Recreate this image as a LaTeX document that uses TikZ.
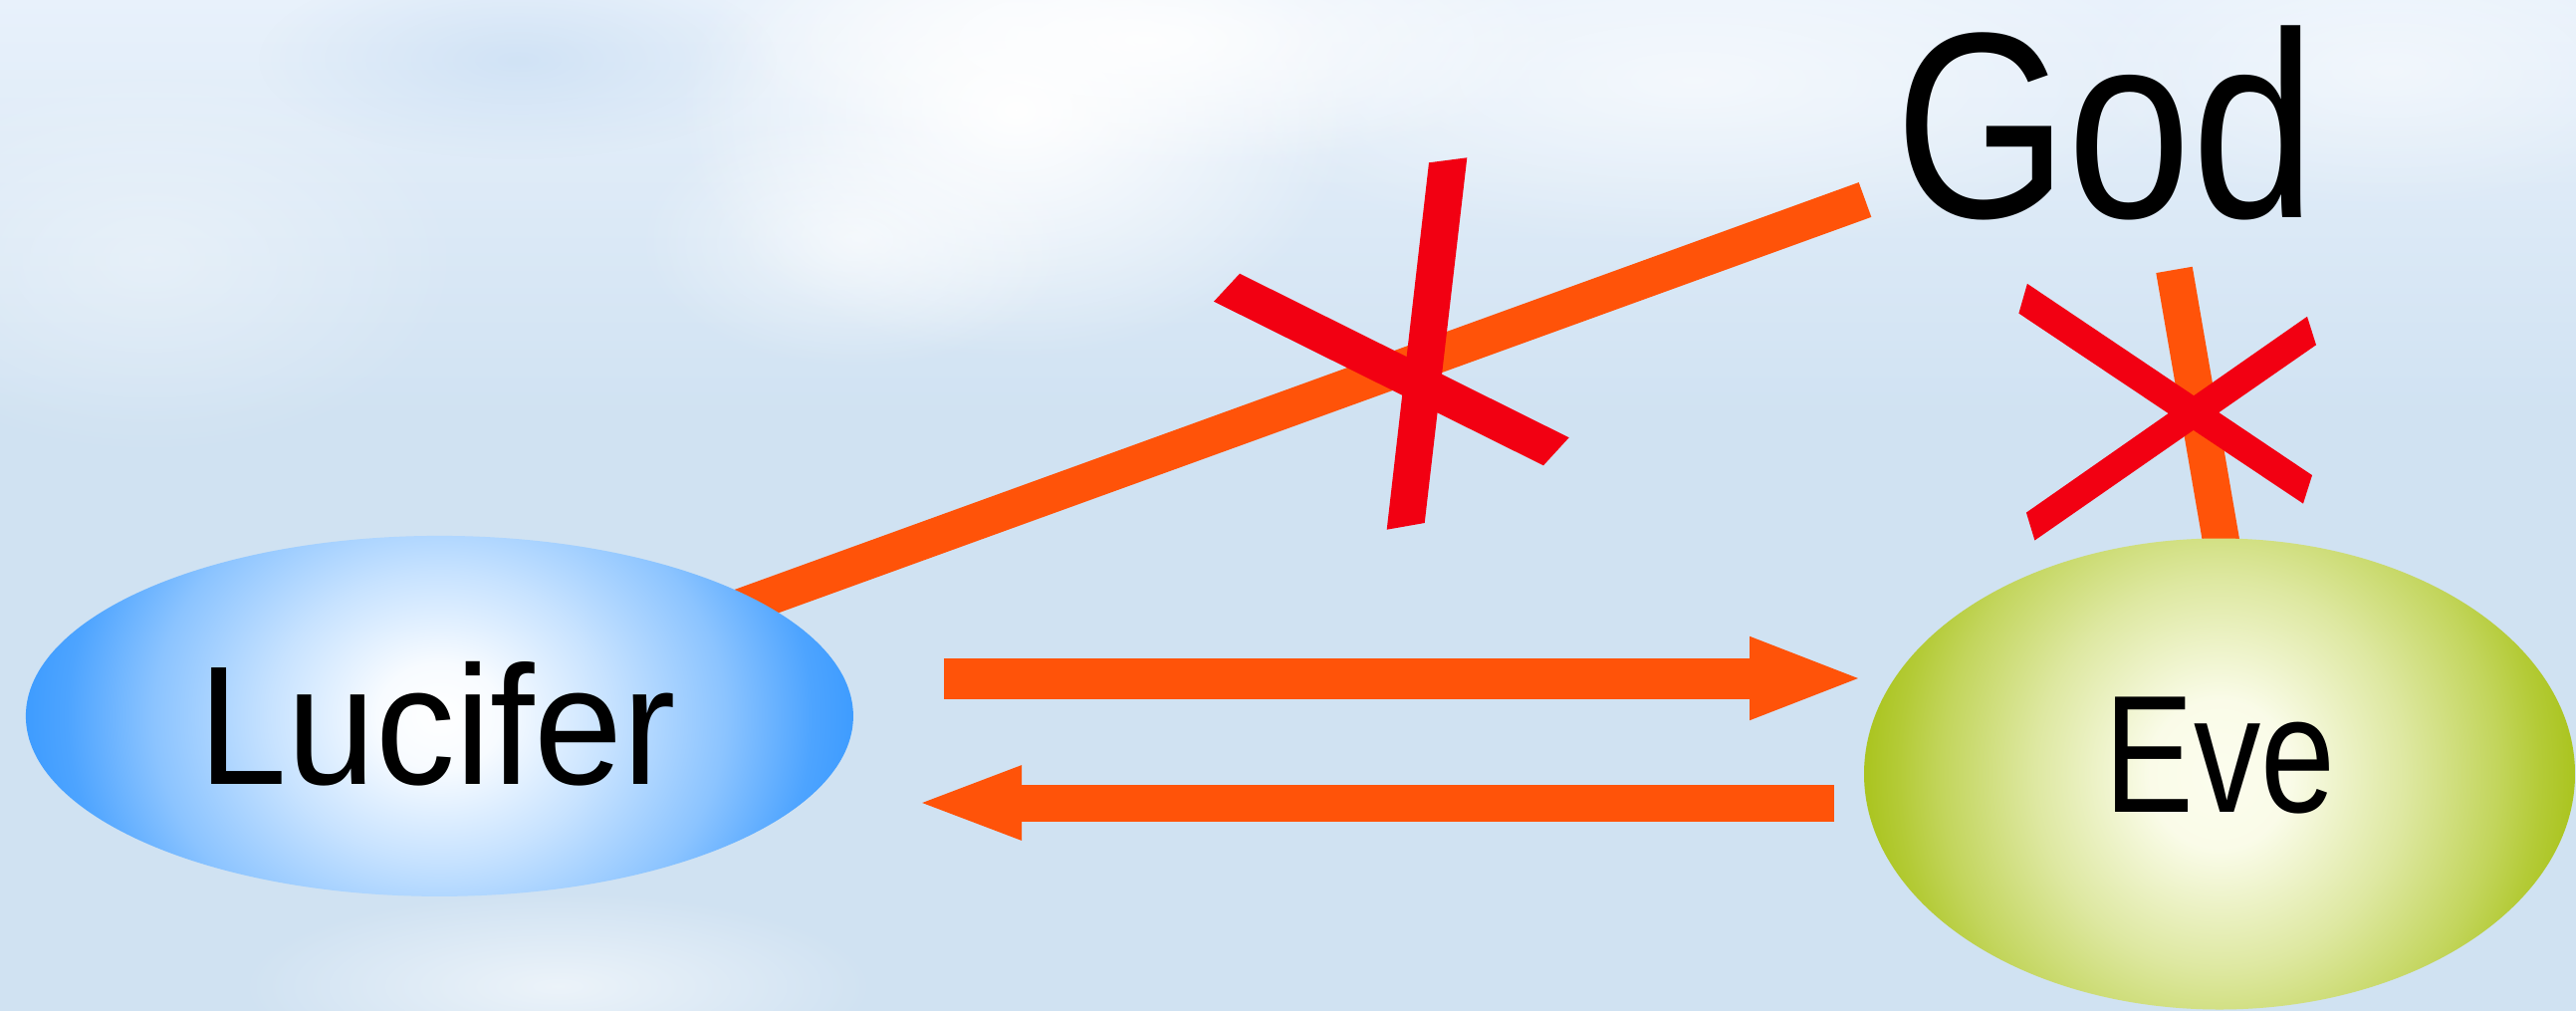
\documentclass[tikz,border=0pt]{standalone}
\usepackage{fontspec}
\setmainfont{Liberation Sans}
\usetikzlibrary{arrows.meta,fadings,shapes.geometric}
\definecolor{sky}{RGB}{208,226,242}
\definecolor{skytop}{RGB}{232,241,251}
\definecolor{skydeep}{RGB}{196,219,243}
\definecolor{orng}{RGB}{255,83,9}
\definecolor{xred}{RGB}{242,0,18}
\definecolor{lucblue}{RGB}{62,156,255}
\definecolor{evegreen}{RGB}{170,196,30}
\definecolor{evein}{RGB}{252,253,238}
\pgfdeclareradialshading{lucshade}{\pgfpoint{0bp}{0bp}}{color(0bp)=(white); color(3.75bp)=(lucblue!4!white); color(10.25bp)=(lucblue!29!white); color(17.25bp)=(lucblue!60!white); color(22.5bp)=(lucblue!92!white); color(25bp)=(lucblue); color(50bp)=(lucblue)}
\pgfdeclareradialshading{eveshade}{\pgfpoint{0bp}{0bp}}{color(0bp)=(evein); color(5bp)=(evegreen!3!evein); color(13bp)=(evegreen!37!evein); color(19.5bp)=(evegreen!70!evein); color(22.5bp)=(evegreen!88!evein); color(25bp)=(evegreen); color(50bp)=(evegreen)}
\tikzfading[name=softblob, inner color=transparent!0, outer color=transparent!100]
\pgfdeclarelayer{bg}
\pgfdeclarelayer{lines}
\pgfsetlayers{bg,lines,main}
\begin{document}
\begin{tikzpicture}[x=1pt,y=-1pt,
  orangeline/.style={draw=orng, line width=37pt},
  blockarrow/.style={draw=orng, line width=#1},
  redbar/.style={fill=xred},
  blob/.style={fill=white, path fading=softblob},
  lucnode/.style={ellipse, inner sep=0pt, minimum width=831pt, minimum height=362pt,
    path picture={\shade[shading=lucshade] (path picture bounding box.center) ellipse [x radius=416, y radius=353];}},
  evenode/.style={ellipse, inner sep=0pt, minimum width=714pt, minimum height=473pt,
    path picture={\shade[shading=eveshade] (path picture bounding box.center) ellipse [x radius=358, y radius=375];}},
  word/.style={inner sep=0pt, anchor=base west, text=black}]
\useasboundingbox (0,0) rectangle (2587,1015);
\begin{pgfonlayer}{bg}
  \fill[sky] (0,0) rectangle (2587,1015);
  \shade[top color=skytop, bottom color=sky] (0,0) rectangle (2587,420);
  \fill[blob, fill=skydeep, opacity=0.6] (520,60) ellipse [x radius=260, y radius=100];
  \fill[blob, opacity=0.35] (150,260) ellipse [x radius=320, y radius=200];
  \fill[blob, opacity=1] (1020,110) ellipse [x radius=340, y radius=250];
  \fill[blob, opacity=0.9] (1150,40) ellipse [x radius=420, y radius=130];
  \fill[blob, opacity=0.6] (860,240) ellipse [x radius=220, y radius=130];
  \fill[blob, opacity=0.6] (1700,80) ellipse [x radius=520, y radius=170];
  \fill[blob, opacity=0.5] (2400,70) ellipse [x radius=320, y radius=140];
  \fill[blob, opacity=0.6] (560,990) ellipse [x radius=320, y radius=95];
\end{pgfonlayer}

\node[lucnode] (lucifer) at (441.4,718.9) {};
\node[evenode] (eve) at (2229,777) {};
\node[word, font=\fontsize{170}{170}\selectfont] (lucname) at (199,787) {\resizebox{480pt}{\height}{Lucifer}};
\node[word, font=\fontsize{168}{168}\selectfont] (evename) at (2113,815) {\resizebox{232pt}{\height}{Eve}};
\node[word, font=\fontsize{266}{266}\selectfont] (god) at (1903,218) {\resizebox{422pt}{\height}{God}};

\coordinate (godleft) at (1873,200.5);
\coordinate (godlow) at (2183.5,270.9);
\coordinate (evein) at (2271,777);
\coordinate (r1) at (948,681);
\coordinate (r2) at (1874,681);
\coordinate (l1) at (1842,806);
\coordinate (l2) at (918,806);

\begin{pgfonlayer}{lines}
  \draw[orangeline] (lucifer.center) -- (godleft);
  \draw[orangeline] (godlow) -- (evein);
\end{pgfonlayer}

\draw[blockarrow=41pt, -{Triangle[length=117pt,width=74pt]}] (r1) -- (r2);
\draw[blockarrow=37pt, -{Triangle[length=108pt,width=66pt]}] (l1) -- (l2);

% red crosses
\fill[redbar] (1435,163.3) -- (1473.3,158.3) -- (1430.7,525) -- (1392.7,531.7) -- cycle;
\fill[redbar] (1245,274.7) -- (1575.7,439.3) -- (1550,467.3) -- (1219,302.7) -- cycle;
\fill[redbar] (2035.9,284.8) -- (2322.0,477.1) -- (2313.0,505.6) -- (2027.4,314.6) -- cycle;
\fill[redbar] (2034.9,514.6) -- (2317.0,317.8) -- (2326.0,346.3) -- (2043.4,542.5) -- cycle;
\end{tikzpicture}
\end{document}
